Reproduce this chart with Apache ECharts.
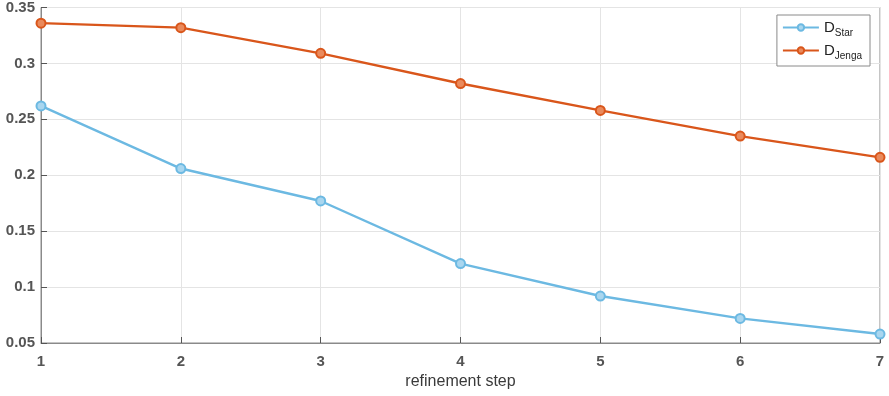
<!DOCTYPE html>
<html><head><meta charset="utf-8">
<script src="https://cdn.jsdelivr.net/npm/echarts@6/dist/echarts.min.js"></script>
<style>html,body{margin:0;padding:0;background:#fff}#c{width:889px;height:396px}</style>
</head><body><div id="c"></div>
<script>
const steps = [1, 2, 3, 4, 5, 6, 7];
const dStar = [0.262, 0.206, 0.177, 0.121, 0.092, 0.072, 0.058];
const dJenga = [0.336, 0.332, 0.309, 0.282, 0.258, 0.235, 0.216];
const seriesNames = ['D_Star', 'D_Jenga'];
const subs = {'D_Star': 'Star', 'D_Jenga': 'Jenga'};

const chart = echarts.init(document.getElementById('c'));
const font = 'Liberation Sans, Arial, Helvetica, sans-serif';
const mk = (arr) => steps.map((s, i) => [s, arr[i]]);
chart.setOption({
  animation: false,
  grid: {left: 41, right: 9, top: 6, bottom: 53, show: true, borderColor: '#8a8a8a', borderWidth: 1, backgroundColor: 'transparent'},
  xAxis: {
    type: 'value', min: 1, max: 7, interval: 1,
    name: 'refinement step', nameLocation: 'middle', nameGap: 30,
    nameTextStyle: {fontFamily: font, fontSize: 16, color: '#3a3a3a'},
    axisLine: {lineStyle: {color: '#8a8a8a'}},
    axisTick: {inside: true, length: 6, lineStyle: {color: '#555'}},
    axisLabel: {fontFamily: font, fontSize: 15, fontWeight: 'bold', color: '#555', margin: 11},
    splitLine: {show: true, lineStyle: {color: '#e4e4e4'}}
  },
  yAxis: {
    type: 'value', min: 0.05, max: 0.35, interval: 0.05,
    axisLine: {show: true, lineStyle: {color: '#8a8a8a'}},
    axisTick: {show: true, inside: true, length: 6, lineStyle: {color: '#555'}},
    axisLabel: {fontFamily: font, fontSize: 15, fontWeight: 'bold', color: '#555', margin: 6,
      formatter: v => String(parseFloat(v.toFixed(2)))},
    splitLine: {show: true, lineStyle: {color: '#e4e4e4'}}
  },
  legend: {
    orient: 'vertical', right: 19, top: 15,
    backgroundColor: '#fff', borderColor: '#8a8a8a', borderWidth: 1,
    padding: [5, 8, 5, 5], itemGap: 5, itemWidth: 36, itemHeight: 8,
    data: seriesNames,
    formatter: n => 'D{s|' + subs[n] + '}',
    textStyle: {fontFamily: font, fontSize: 15, color: '#222',
      rich: {s: {fontFamily: font, fontSize: 10, color: '#222', padding: [11, 0, 0, 0]}}}
  },
  series: [
    {name: seriesNames[0], type: 'line', data: mk(dStar),
      symbol: 'circle', symbolSize: 9, lineStyle: {width: 2.4, color: '#6cb9e2'},
      itemStyle: {color: '#a9d6ef', borderColor: '#6cb9e2', borderWidth: 2}},
    {name: seriesNames[1], type: 'line', data: mk(dJenga),
      symbol: 'circle', symbolSize: 9, lineStyle: {width: 2.4, color: '#d9561b'},
      itemStyle: {color: '#ea8a5c', borderColor: '#d9561b', borderWidth: 2}}
  ]
});
</script></body></html>
